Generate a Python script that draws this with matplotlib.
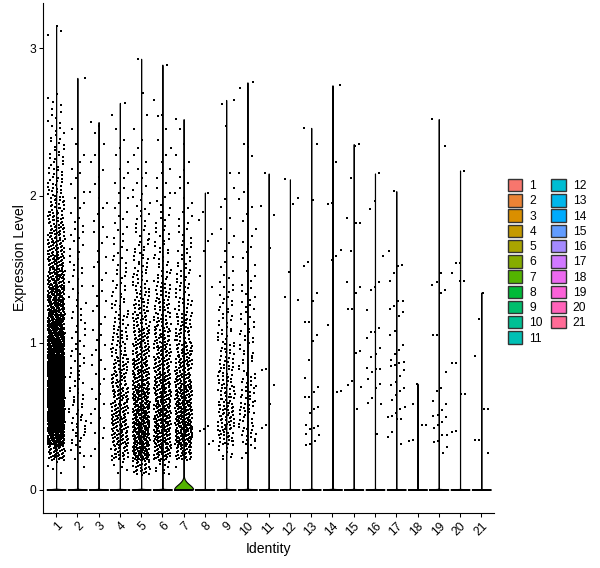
import numpy as np
import matplotlib
matplotlib.use('Agg')
import matplotlib.pyplot as plt
from matplotlib.patches import Patch

plt.rcParams['font.family'] = ['Liberation Sans', 'DejaVu Sans']

# identities on the x axis
identities = [str(i) for i in range(1, 22)]

# dense clusters: number of expressing cells per 0.1 bin, bins start at 0.1
bin_start = 0.1
bin_step = 0.1
binned_counts = {
    '1': [4, 40, 110, 160, 175, 175, 165, 150, 130, 105, 85, 70, 60, 50, 42, 36,
          30, 25, 20, 16, 12, 10, 8, 6, 5, 4],
    '2': [1, 5, 9, 10, 9, 8, 7, 6, 6, 5, 5, 5, 4, 5, 5, 4, 5, 3, 3, 2, 3, 2, 1, 1],
    '3': [0, 2, 3, 3, 3, 3, 3, 3, 3, 3, 2, 3, 3, 2, 3, 2, 3, 2, 3, 2, 2, 2, 1, 2],
    '4': [5, 28, 36, 38, 36, 32, 28, 24, 19, 16, 13, 10, 8, 7, 6, 5, 4, 4, 3, 3,
          3, 2, 2, 1, 1],
    '5': [28, 60, 62, 60, 56, 52, 46, 40, 34, 30, 25, 20, 16, 13, 11, 9, 7, 6, 5,
          4, 3, 2, 2, 1, 1],
    '6': [10, 42, 50, 50, 47, 44, 40, 36, 31, 27, 23, 19, 15, 12, 10, 8, 7, 5, 4,
          3, 3, 2, 2, 1, 1],
    '7': [1, 32, 54, 56, 52, 47, 41, 35, 28, 23, 19, 15, 12, 10, 8, 7, 5, 4, 3, 3,
          2, 2, 1, 1],
    '9': [0, 8, 20, 25, 25, 20, 18, 15, 13, 10, 8, 8, 6, 4, 3, 2, 2, 1, 2, 1, 1],
    '10': [0, 3, 12, 14, 14, 12, 11, 9, 8, 8, 6, 6, 5, 3, 2, 3, 2, 2, 2, 2, 1],
}

# highest cells of the dense clusters, read one by one
top_cells = {
    '1': [3.09, 3.12, 3.15],
    '2': [2.80],
    '3': [2.50],
    '4': [2.63],
    '5': [2.70, 2.93],
    '6': [2.54, 2.65, 2.89],
    '7': [2.52],
    '9': [2.47, 2.62, 2.65],
    '10': [2.27, 2.33, 2.35, 2.73, 2.77],
}

# sparse clusters: one value per expressing cell
cell_values = {
    '8': [2.02, 1.89, 1.83, 1.74, 1.69, 1.62, 1.45, 1.38, 0.43, 0.41, 0.40, 0.33, 0.31],
    '11': [2.15, 1.93, 1.87, 1.64, 0.82, 0.81, 0.71, 0.58, 0.44, 0.42],
    '12': [2.11, 1.98, 1.94, 1.48, 1.31, 1.29],
    '13': [2.46, 2.35, 1.97, 1.55, 1.52, 1.34, 1.28, 1.14, 1.14, 1.05, 1.01, 0.88,
           0.76, 0.70, 0.66, 0.63, 0.63, 0.56, 0.55, 0.52, 0.44, 0.43, 0.42, 0.41,
           0.38, 0.37, 0.33, 0.31, 0.30],
    '14': [2.75, 2.23, 1.95, 1.94, 1.63, 1.59, 1.56, 1.12, 0.67, 0.66, 0.48],
    '15': [2.35, 2.34, 2.12, 1.85, 1.81, 1.81, 1.62, 1.41, 1.38, 1.34, 1.23, 1.23,
           0.94, 0.93, 0.74, 0.71, 0.70, 0.55],
    '16': [2.15, 1.96, 1.91, 1.59, 1.41, 1.38, 1.36, 1.22, 1.10, 1.07, 1.07, 1.03,
           0.96, 0.92, 0.90, 0.83, 0.82, 0.82, 0.80, 0.75, 0.72, 0.69, 0.62, 0.59,
           0.58, 0.38],
    '17': [2.03, 1.62, 1.53, 1.52, 1.47, 1.42, 1.28, 1.28, 1.25, 1.23, 1.21, 1.18,
           1.08, 1.05, 0.98, 0.95, 0.92, 0.88, 0.87, 0.86, 0.85, 0.84, 0.81, 0.77,
           0.73, 0.71, 0.69, 0.67, 0.64, 0.61, 0.56, 0.55, 0.52, 0.50, 0.49, 0.48,
           0.48, 0.39, 0.36, 0.31],
    '18': [0.72, 0.58, 0.44, 0.44, 0.43, 0.34, 0.33],
    '19': [2.52, 2.34, 1.47, 1.41, 1.39, 1.36, 1.34, 1.05, 1.05, 0.80, 0.69, 0.67,
           0.60, 0.58, 0.54, 0.51, 0.50, 0.49, 0.46, 0.44, 0.42, 0.37, 0.37, 0.33,
           0.32, 0.29, 0.25],
    '20': [2.17, 1.54, 1.54, 1.47, 1.42, 1.42, 0.86, 0.86, 0.65, 0.65, 0.40, 0.39],
    '21': [1.34, 1.16, 0.91, 0.55, 0.55, 0.34, 0.34, 0.25],
}

# cells with no expression in each identity
zero_cells = [5800, 2000, 1800, 1800, 2400, 2100, 1350, 1500, 1400, 1300, 1200,
              1100, 1000, 900, 800, 700, 650, 500, 450, 400, 300]


def hue_colors(n, c=100.0, l=65.0):
    # ggplot2 default discrete palette (hcl, hues 15..375)
    hues = np.linspace(15, 375, n + 1)[:n]
    Xn, Yn, Zn = 95.047, 100.0, 108.883
    t = Xn + 15 * Yn + 3 * Zn
    un, vn = 4 * Xn / t, 9 * Yn / t
    out = []
    for h in hues:
        u = c * np.cos(np.deg2rad(h))
        v = c * np.sin(np.deg2rad(h))
        Y = Yn * ((l + 16) / 116) ** 3
        up = u / (13 * l) + un
        vp = v / (13 * l) + vn
        X = 9 * Y * up / (4 * vp)
        Z = -X / 3 - 5 * Y + 3 * Y / vp
        X, Y, Z = X / 100, Y / 100, Z / 100
        rgb = np.array([3.240479 * X - 1.537150 * Y - 0.498535 * Z,
                        -0.969256 * X + 1.875992 * Y + 0.041556 * Z,
                        0.055648 * X - 0.204043 * Y + 1.057311 * Z])
        rgb = np.where(rgb <= 0.0031308, 12.92 * rgb, 1.055 * np.abs(rgb) ** (1 / 2.4) - 0.055)
        out.append(tuple(np.clip(rgb, 0, 1)))
    return out


def cluster_values(name):
    # cells of one bin are spread evenly over the bin, in a mixed order
    vals = []
    if name in binned_counts:
        for b, n in enumerate(binned_counts[name]):
            lo = bin_start + b * bin_step
            order = (np.arange(n) * 0.5698402910 + 0.5) % 1.0
            vals += list(lo + bin_step * (np.argsort(np.argsort(order)) + 0.5) / max(n, 1))
        vals += top_cells[name]
    else:
        vals += cell_values[name]
    return np.array(vals)


def nrd0(x):
    hi = np.std(x, ddof=1)
    q75, q25 = np.percentile(x, [75, 25])
    lo = min(hi, (q75 - q25) / 1.34)
    lo = max(lo, 1e-5)  # Seurat adds tiny noise before the density step
    return 0.9 * lo * len(x) ** -0.2


colors = hue_colors(len(identities))

fig = plt.figure(figsize=(6, 5.68), dpi=100)
ax = fig.add_axes([0.0722, 0.0974, 0.7512, 0.8968])

ymax = 0
for i, name in enumerate(identities):
    pos = i + 1
    vals = np.concatenate([np.zeros(zero_cells[i]), cluster_values(name)])
    ymax = max(ymax, vals.max())

    # violin (scale = width, trimmed)
    bw = nrd0(vals)
    grid = np.linspace(vals.min(), vals.max(), 512)
    dens = np.exp(-0.5 * ((grid[:, None] - vals[None, :]) / bw) ** 2).sum(axis=1)
    half = 0.45 * dens / dens.max()
    ax.fill_betweenx(grid, pos - half, pos + half, facecolor=colors[i],
                     edgecolor='black', linewidth=0.8, zorder=2)

    # jittered cells (width 0.4 each side)
    k = np.arange(len(vals))
    frac = ((k + 1) * 0.7548776662 + i * 0.37) % 1.0
    jit = 0.4 * (2 * frac - 1)
    ax.scatter(pos + jit, vals, s=2.2, marker='s', c='black', linewidths=0,
               zorder=3)

pad = 0.05 * ymax
ax.set_ylim(-pad, ymax + pad)
ax.set_xlim(0.4, len(identities) + 0.6)
ax.set_yticks([0, 1, 2, 3])
ax.set_xticks(range(1, len(identities) + 1))
ax.set_xticklabels(identities, rotation=45, ha='right', va='top',
                   rotation_mode='anchor')

for s in ['top', 'right']:
    ax.spines[s].set_visible(False)
for s in ['left', 'bottom']:
    ax.spines[s].set_linewidth(0.8)
ax.tick_params(length=2.9, width=0.75, color='black', labelsize=8.64, pad=2.2)

ax.set_xlabel('Identity', fontsize=10.08, labelpad=3)
ax.set_ylabel('Expression Level', fontsize=10.08, labelpad=1.5)

handles = [Patch(facecolor=c, edgecolor='#333333', linewidth=1.0) for c in colors]
fig.legend(handles, identities, loc='upper left',
           bbox_to_anchor=(508 / 600, 1 - 179 / 568), ncol=2, frameon=False,
           fontsize=8.64, handlelength=1.2, handleheight=1.2,
           handletextpad=0.6, columnspacing=0.67, labelspacing=0.17,
           borderpad=0, borderaxespad=0)

fig.savefig('out.png', dpi=100)
